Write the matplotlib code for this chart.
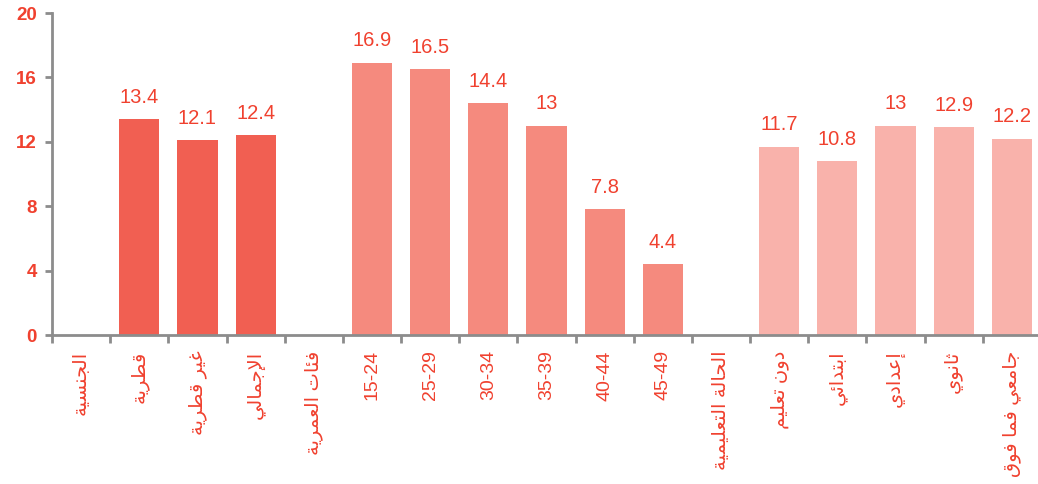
import numpy as np
import matplotlib.pyplot as plt

# data
sections = ["الجنسية", "فئات العمرية", "الحالة التعليمية"]
nat_labels = ["قطرية", "غير قطرية", "الإجمالي"]
nat_values = [13.4, 12.1, 12.4]
age_labels = ["15-24", "25-29", "30-34", "35-39", "40-44", "45-49"]
age_values = [16.9, 16.5, 14.4, 13, 7.8, 4.4]
edu_labels = ["دون تعليم", "ابتدائي", "إعدادي", "ثانوي", "جامعي فما فوق"]
edu_values = [11.7, 10.8, 13, 12.9, 12.2]
yticks = [0, 4, 8, 12, 16, 20]

colors = ["#F15F52", "#F58A7E", "#F9B2AB"]
red = "#F0412F"
gray = "#8C8C8C"

# small arabic shaper (matplotlib does no shaping / rtl)
# char -> (base of presentation form, number of forms)
forms = {
    "ا": (0xFE8D, 2), "إ": (0xFE87, 2), "ب": (0xFE8F, 4), "ة": (0xFE93, 2),
    "ت": (0xFE95, 4), "ث": (0xFE99, 4), "ج": (0xFE9D, 4), "ح": (0xFEA1, 4),
    "د": (0xFEA9, 2), "ر": (0xFEAD, 2), "س": (0xFEB1, 4), "ط": (0xFEC1, 4),
    "ع": (0xFEC9, 4), "غ": (0xFECD, 4), "ف": (0xFED1, 4), "ق": (0xFED5, 4),
    "ل": (0xFEDD, 4), "م": (0xFEE1, 4), "ن": (0xFEE5, 4), "و": (0xFEED, 2),
    "ي": (0xFEF1, 4), "ئ": (0xFE89, 4),
}
lamalef = {"ا": 0xFEFB, "إ": 0xFEF9}


def shape(s):
    if not any(c in forms for c in s):
        return s
    # merge lam+alef first
    chars = []
    i = 0
    while i < len(s):
        if s[i] == "ل" and i + 1 < len(s) and s[i + 1] in lamalef:
            chars.append(("LA", s[i + 1]))
            i += 2
        else:
            chars.append((s[i], None))
            i += 1

    def dual(c):
        return c[0] in forms and forms[c[0]][1] == 4

    def letter(c):
        return c[0] in forms or c[0] == "LA"

    out = []
    for k, c in enumerate(chars):
        prev_j = k > 0 and dual(chars[k - 1]) and letter(c)
        if c[0] == "LA":
            code = lamalef[c[1]] + (1 if prev_j else 0)
            out.append(chr(code))
            continue
        if c[0] not in forms:
            out.append(c[0])
            continue
        base, n = forms[c[0]]
        next_j = n == 4 and k + 1 < len(chars) and letter(chars[k + 1])
        if prev_j and next_j:
            code = base + 3
        elif prev_j:
            code = base + 1
        elif next_j:
            code = base + 2
        else:
            code = base
        out.append(chr(code))
    return "".join(out)[::-1]


plt.rcParams['font.family'] = ['Liberation Sans', 'DejaVu Sans']

fig = plt.figure(figsize=(10.38, 4.84), dpi=100)
ax = fig.add_axes([52 / 1038, 149 / 484, 989 / 1038, 322 / 484])

groups = [(nat_labels, nat_values), (age_labels, age_values), (edu_labels, edu_values)]
labels = []
pos = 0
for g, (labs, vals) in enumerate(groups):
    labels.append(sections[g])
    pos += 1
    x = np.arange(pos, pos + len(vals))
    bars = ax.bar(x, vals, width=0.69, color=colors[g], zorder=2)
    for xi, v in zip(x, vals):
        ax.annotate(f"{v:g}", (xi, v), xytext=(0, 9), textcoords="offset points",
                    ha="center", va="bottom", fontsize=14.5, color=red)
    labels.extend(labs)
    pos += len(vals)

n = len(labels)
ax.set_xlim(-0.5, n - 0.5)
ax.set_ylim(0, 20)
ax.set_yticks(yticks)
ax.set_yticklabels([str(t) for t in yticks], fontsize=13.5, fontweight="bold", color=red)

ax.set_xticks(np.arange(n + 1) - 0.5)
ax.set_xticklabels([])
ax.set_xticks(np.arange(n), minor=True)
ax.set_xticklabels([shape(l) for l in labels], minor=True, rotation=90,
                   fontsize=14, color=red, va="top", ha="center")
ax.tick_params(axis="x", which="major", length=6, width=2, color=gray, direction="out")
ax.tick_params(axis="x", which="minor", length=0, pad=11)
ax.tick_params(axis="y", length=5, width=2, color=gray, pad=6)

for s in ["top", "right"]:
    ax.spines[s].set_visible(False)
for s in ["left", "bottom"]:
    ax.spines[s].set_color(gray)
    ax.spines[s].set_linewidth(2)

fig.savefig("out.png", dpi=100)
